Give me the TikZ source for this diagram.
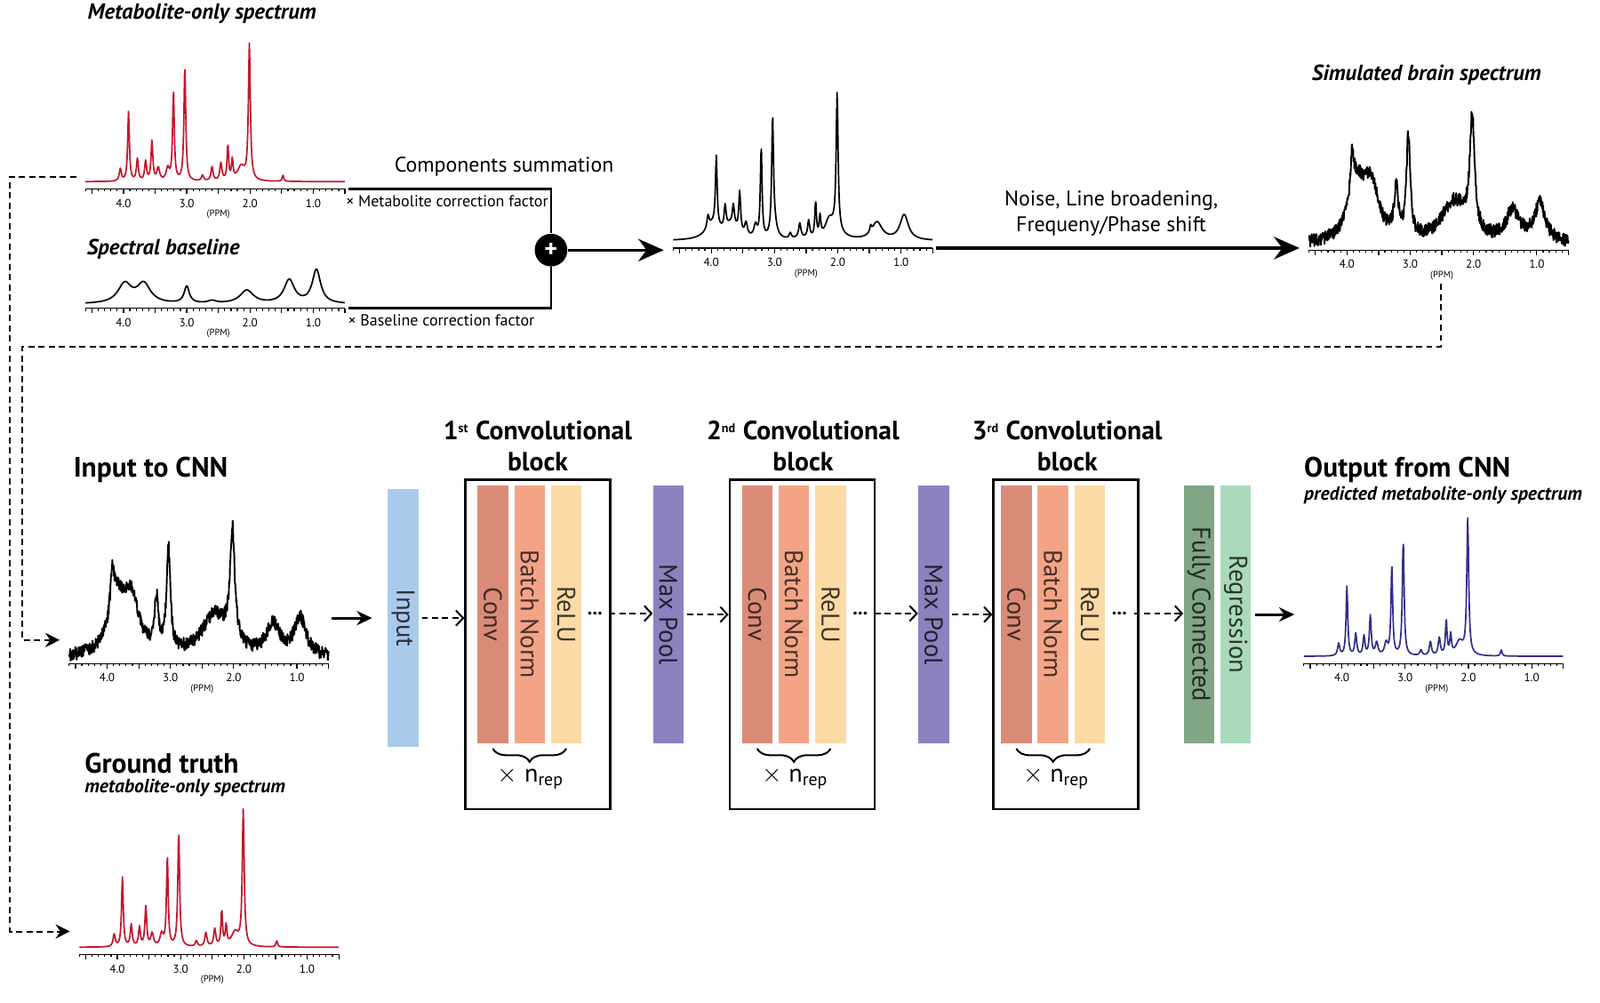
\documentclass[tikz,border=0pt]{standalone}
\usepackage{fontspec}
\setmainfont{PT Sans}
\usetikzlibrary{arrows.meta,positioning,decorations.pathreplacing}

\definecolor{specred}{RGB}{196,22,44}
\definecolor{specblue}{RGB}{52,46,140}
\definecolor{inblue}{RGB}{170,202,236}
\definecolor{convred}{RGB}{218,139,120}
\definecolor{bnorange}{RGB}{243,164,135}
\definecolor{reluyellow}{RGB}{251,218,165}
\definecolor{poolpurple}{RGB}{141,129,190}
\definecolor{fcgreen}{RGB}{128,166,134}
\definecolor{reggreen}{RGB}{170,218,185}

\tikzset{
  axisline/.style={line width=0.6pt},
  ticklabel/.style={font=\fontsize{6.5}{7}\selectfont, inner sep=0pt},
  ppmlabel/.style={font=\fontsize{5.2}{6}\selectfont, inner sep=0pt},
  cleanspec/.style={line width=0.85pt, line join=round},
  noisyspec/.style={line width=0.95pt, line join=round},
  spectitle/.style={font=\bfseries\itshape\fontsize{12.2}{14}\selectfont, inner sep=1pt},
  cnntitle/.style={font=\bfseries\fontsize{15.6}{17}\selectfont, inner sep=1pt, anchor=west},
  cnnsub/.style={font=\bfseries\itshape\fontsize{10.7}{12}\selectfont, inner sep=1pt, anchor=west},
  steplabel/.style={font=\fontsize{11.8}{14}\selectfont, inner sep=1pt, align=center},
  factorlabel/.style={font=\fontsize{8.9}{10}\selectfont, inner sep=1pt, anchor=west},
  layer/.style={rotate=-90, minimum width=50.4mm, minimum height=6mm, inner sep=0pt,
    font=\fontsize{14.2}{15}\selectfont},
  blockbox/.style={draw, line width=1.1pt, minimum width=28.4mm, minimum height=64.6mm, inner sep=0pt},
  blocktitle/.style={font=\bfseries\fontsize{14.7}{17.6}\selectfont, align=center},
  reptext/.style={font=\fontsize{14}{15}\selectfont, inner sep=0pt},
  repbrace/.style={decorate, decoration={brace, mirror, amplitude=2.6mm}, line width=1pt},
  dotnode/.style={font=\bfseries\fontsize{11}{11}\selectfont, inner sep=0.8pt},
  sumdot/.style={circle, fill=black, minimum size=6.4mm, inner sep=0pt,
    font=\bfseries\fontsize{14}{14}\selectfont, text=white},
  joinline/.style={line width=1.2pt},
  mainarrow/.style={line width=1.7pt, -{Stealth[length=5mm,width=4.4mm]}},
  smallarrow/.style={line width=1.4pt, -{Stealth[length=3mm,width=2.8mm]}},
  dasharrow/.style={dash pattern=on 1.2mm off 0.8mm, line width=1pt,
    -{Straight Barb[length=1.4mm,width=3mm]}},
  looparrow/.style={dash pattern=on 1.2mm off 0.8mm, line width=1pt,
    -{Stealth[length=2.8mm,width=2.8mm]}},
}

% #1 name, #2 x of 4.0 ppm, #3 axis y, #4 line style, #5 curve points, #6 height of left end
\newcommand{\spectrum}[6]{%
  \begin{scope}[shift={(#2+248,#3)},x=-12.4mm,y=1mm]
    \draw[#4] #5;
    \draw[axisline] (4.6,0) -- (0.5,0);
    \foreach \t in {5,...,46} \draw[axisline] (\t/10,0) -- (\t/10,-0.5);
    \foreach \t in {5,10,...,45} \draw[axisline] (\t/10,0) -- (\t/10,-1);
    \foreach \t in {1,2,3,4} \node[ticklabel] (#1-tick\t) at (\t,-2.8) {\t.0};
    \node[ppmlabel] (#1-unit) at (2.5,-5) {(PPM)};
    \coordinate (#1-l) at (4.75,#6);
    \coordinate (#1-r) at (0.45,0);
    \coordinate (#1-b) at (2.52,-6.6);
  \end{scope}}

\begin{document}
\begin{tikzpicture}[x=0.2mm,y=-0.2mm,
  declare function={
    lor(\pp,\cc,\hh,\ww)=\hh/(1+(min(abs(\pp-\cc)/\ww,100))^2);
    metab(\pp)=1.4+lor(\pp,2.01,26.5,0.018)+lor(\pp,3.03,22.5,0.017)+lor(\pp,3.21,17.6,0.016)
      +lor(\pp,3.92,13.6,0.016)+lor(\pp,3.55,7.8,0.017)+lor(\pp,3.78,4.3,0.018)
      +lor(\pp,3.65,3.8,0.018)+lor(\pp,3.45,2.5,0.025)+lor(\pp,2.35,6.8,0.015)
      +lor(\pp,2.28,3.8,0.015)+lor(\pp,2.46,3.4,0.02)+lor(\pp,2.6,2.7,0.02)
      +lor(\pp,4.05,2.4,0.02)+lor(\pp,2.14,2.8,0.07)+lor(\pp,3.3,2.4,0.03)
      +lor(\pp,2.75,1.1,0.02)+lor(\pp,1.48,1.2,0.015);
    basel(\pp)=0.8+lor(\pp,3.98,3.8,0.13)+lor(\pp,3.68,3.8,0.13)+lor(\pp,3.0,3.3,0.05)
      +lor(\pp,2.05,2.6,0.13)+lor(\pp,1.38,4.6,0.1)+lor(\pp,0.95,6.6,0.08)+lor(\pp,2.6,0.5,0.08);
    brain(\pp)=1+lor(\pp,3.85,10.5,0.15)+lor(\pp,3.62,10.5,0.15)+lor(\pp,2.3,8,0.25)
      +lor(\pp,1.38,6,0.13)+lor(\pp,0.95,7.5,0.11)+lor(\pp,3.92,8,0.03)
      +lor(\pp,3.22,10,0.035)+lor(\pp,3.03,20,0.035)+lor(\pp,2.02,22,0.045);
  }]
\useasboundingbox (0,0) rectangle (1568,982);

% curves, computed once
\gdef\metabpts{}\gdef\baselpts{}\gdef\summpts{}
\foreach \i in {0,...,500} {
  \pgfmathsetmacro\pp{4.6-\i*0.0082}
  \pgfmathsetmacro\mv{metab(\pp)}
  \pgfmathsetmacro\bv{basel(\pp)}
  \pgfmathsetmacro\sv{\mv+0.75*(\bv-0.8)}
  \ifnum\i=0 \def\sep{}\else\def\sep{--}\fi
  \xdef\metabpts{\metabpts\sep(\pp,\mv)}
  \xdef\baselpts{\baselpts\sep(\pp,\bv)}
  \xdef\summpts{\summpts\sep(\pp,\sv)}
}
\gdef\brainpts{}\gdef\cnninpts{}
\foreach \i in {0,...,800} {
  \pgfmathsetmacro\pp{4.6-\i*0.005125}
  \pgfmathsetmacro\rv{brain(\pp)}
  \pgfmathsetmacro\na{\rv+1.3*rand}
  \pgfmathsetmacro\nb{\rv+1.3*rand}
  \ifnum\i=0 \def\sep{}\else\def\sep{--}\fi
  \xdef\brainpts{\brainpts\sep(\pp,\na)}
  \xdef\cnninpts{\cnninpts\sep(\pp,\nb)}
}

% simulation of the training data
\node[spectitle] (mtitle) at (198,13) {Metabolite-only spectrum};
\spectrum{metab}{121}{185}{cleanspec, draw=specred}{\metabpts}{2.4}
\node[spectitle] (btitle) at (160,244) {Spectral baseline};
\spectrum{basel}{121}{302}{cleanspec}{\baselpts}{1}
\node[steplabel] (sumlabel) at (494,163) {Components summation};
\node[factorlabel] (mfactor) at (337,197) {× Metabolite correction factor};
\node[factorlabel] (bfactor) at (339,314) {× Baseline correction factor};
\node[sumdot] (plus) at (540,245) {+};
\draw[joinline] (metab-r) -| (plus.north);
\draw[joinline] (basel-r) -| (plus.south);
\spectrum{summ}{697}{243}{cleanspec}{\summpts}{0}
\draw[mainarrow] (plus) -- (plus -| summ-l);
\node[steplabel] (noiselabel) at (1089,209) {Noise, Line broadening,\\Frequeny/Phase shift};
\node[spectitle] (stitle) at (1398,73) {Simulated brain spectrum};
\spectrum{brain}{1320}{245}{noisyspec}{\brainpts}{0}
\draw[mainarrow] (summ-r) -- (summ-r -| brain-l);

% inputs and targets
\node[cnntitle] (intitle) at (70,460) {Input to CNN};
\spectrum{cnnin}{105}{650}{noisyspec}{\cnninpts}{4.6}
\node[cnntitle] (gttitle) at (81,748) {Ground truth};
\node[cnnsub] (gtsub) at (81,772) {metabolite-only spectrum};
\spectrum{truth}{115}{935}{cleanspec, draw=specred}{\metabpts}{4.5}
\coordinate (inloop) at (22,340);
\coordinate (truthloop) at (10,600);
\draw[looparrow] (brain-b) |- (inloop) |- (cnnin-l);
\draw[looparrow] (metab-l) -| (truthloop) |- (truth-l);

% network
\node[layer, fill=inblue, text=inblue!25!black] (inbar) at (395,605.5) {Input};
\draw[smallarrow, shorten >=3mm] (cnnin-r |- inbar.south) -- (inbar.south);

\node[blockbox] (blk1) at (527,631.5) {};
\node[blocktitle] (blk1-title) at (527,437) {1{\fontsize{10}{10}\selectfont\textsuperscript{st}} Convolutional\\block};
\node[layer, fill=convred, text=convred!30!black] (conv1) at (483,602) {Conv};
\node[layer, fill=bnorange, text=bnorange!30!black] (bn1) at (519,602) {Batch Norm};
\node[layer, fill=reluyellow, text=reluyellow!25!black] (relu1) at (555,602) {ReLU};
\draw[repbrace] ([yshift=-1mm]conv1.east) -- ([yshift=-1mm]relu1.east);
\node[reptext] (rep1) at (520,762) {$\times$ n\textsubscript{rep}};
\node[dotnode] (dots1) at (583,601) {...};

\node[layer, fill=poolpurple, text=poolpurple!25!black] (pool1) at (655,602) {Max Pool};

\node[blockbox] (blk2) at (786,631.5) {};
\node[blocktitle] (blk2-title) at (787,437) {2{\fontsize{10}{10}\selectfont\textsuperscript{nd}} Convolutional\\block};
\node[layer, fill=convred, text=convred!30!black] (conv2) at (742,602) {Conv};
\node[layer, fill=bnorange, text=bnorange!30!black] (bn2) at (778,602) {Batch Norm};
\node[layer, fill=reluyellow, text=reluyellow!25!black] (relu2) at (814,602) {ReLU};
\draw[repbrace] ([yshift=-1mm]conv2.east) -- ([yshift=-1mm]relu2.east);
\node[reptext] (rep2) at (779,762) {$\times$ n\textsubscript{rep}};
\node[dotnode] (dots2) at (843,601) {...};

\node[layer, fill=poolpurple, text=poolpurple!25!black] (pool2) at (915,602) {Max Pool};

\node[blockbox] (blk3) at (1044.5,631.5) {};
\node[blocktitle] (blk3-title) at (1046,437) {3{\fontsize{10}{10}\selectfont\textsuperscript{rd}} Convolutional\\block};
\node[layer, fill=convred, text=convred!30!black] (conv3) at (996,602) {Conv};
\node[layer, fill=bnorange, text=bnorange!30!black] (bn3) at (1032,602) {Batch Norm};
\node[layer, fill=reluyellow, text=reluyellow!25!black] (relu3) at (1068,602) {ReLU};
\draw[repbrace] ([yshift=-1mm]conv3.east) -- ([yshift=-1mm]relu3.east);
\node[reptext] (rep3) at (1035,762) {$\times$ n\textsubscript{rep}};
\node[dotnode] (dots3) at (1097,601) {...};

\node[layer, fill=fcgreen, text=fcgreen!25!black] (fc) at (1175,602) {Fully Connected};
\node[layer, fill=reggreen, text=reggreen!25!black] (reg) at (1211,602) {Regression};

\draw[dasharrow, shorten <=0.6mm] (inbar.north) -- (inbar.north -| blk1.west);
\draw[dasharrow, shorten <=1mm] (dots1.east) -- (dots1.east -| pool1.south);
\draw[dasharrow, shorten <=0.6mm] (pool1.north) -- (pool1.north -| blk2.west);
\draw[dasharrow, shorten <=1mm] (dots2.east) -- (dots2.east -| pool2.south);
\draw[dasharrow, shorten <=0.6mm] (pool2.north) -- (pool2.north -| blk3.west);
\draw[dasharrow, shorten <=1mm] (dots3.east) -- (dots3.east -| fc.south);

% prediction
\node[cnntitle] (outtitle) at (1276,460) {Output from CNN};
\node[cnnsub] (outsub) at (1276,485) {predicted metabolite-only spectrum};
\spectrum{cnnout}{1315}{650}{cleanspec, draw=specblue}{\metabpts}{9.8}
\draw[smallarrow, shorten <=0.8mm] (reg.north) -- (reg.north -| cnnout-l);
\end{tikzpicture}
\end{document}
